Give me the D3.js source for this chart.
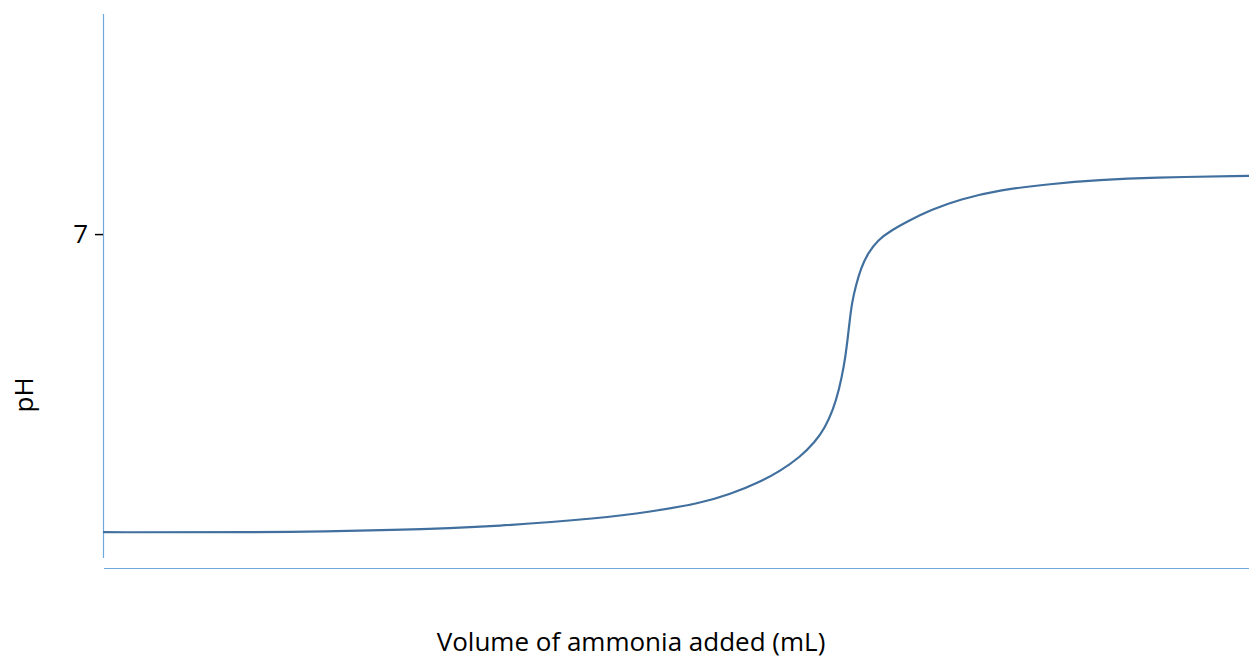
<!DOCTYPE html>
<meta charset="utf-8">
<html>
  <style>
    body, html{ margin: 0; background: #fff;}
    text{ font-family: "Open Sans", sans-serif; fill: #000; }
    .axis-line{ stroke: #6fa8dc; stroke-width: 1.2; }
    .curve{ fill: none; stroke: #41709f; stroke-width: 2.2; }
  </style>
  <body>
    <svg></svg>
    <script src="https://cdn.jsdelivr.net/npm/d3@7"></script>
    <script>
// titration curve
var volume = [0, 6.4, 13, 17.3, 21.7, 23.87, 26.05, 27.36, 28.66, 29.54, 30.41, 31.06, 31.5, 31.85, 32.11, 32.33, 32.46, 32.57, 32.68, 32.85, 33.07, 33.38, 33.81, 34.34, 35.21, 36.08, 37.39, 39.14, 41.32, 43.5, 45.68, 50]
  , ph = [1.0, 0.99, 1.04, 1.12, 1.28, 1.41, 1.58, 1.76, 2.01, 2.23, 2.51, 2.81, 3.1, 3.46, 3.86, 4.34, 4.77, 5.23, 5.63, 5.97, 6.32, 6.62, 6.88, 7.06, 7.28, 7.48, 7.7, 7.89, 8.01, 8.09, 8.14, 8.17]
  , phTicks = [7]

var w = 1249, h = 659
  , svg = d3.select('svg').attr('width', w).attr('height', h)

var x = d3.scaleLinear().domain([0, 50]).range([103, 1249])
  , y = d3.scaleLinear().domain([0.48, 11.43]).range([558, 14])

// axis lines
svg.append('line').attr('class', 'axis-line')
  .attr('x1', 103.5).attr('x2', 103.5).attr('y1', 14).attr('y2', 558)
svg.append('line').attr('class', 'axis-line')
  .attr('x1', 104).attr('x2', 1249).attr('y1', 568.5).attr('y2', 568.5)

// y ticks
var yAxis = svg.append('g').attr('transform', 'translate(103,0)')
  .call(d3.axisLeft(y).tickValues(phTicks).tickSize(8).tickPadding(7))
yAxis.select('.domain').remove()
yAxis.selectAll('.tick line').attr('stroke', '#000').attr('stroke-width', 1.5)
yAxis.selectAll('.tick text').style('font-size', '26px').attr('font-family', null)

// curve
var pts = volume.map(function(v, i){ return [v, ph[i]] })
svg.append('path').attr('class', 'curve')
  .attr('d', d3.line().x(function(d){ return x(d[0]) }).y(function(d){ return y(d[1]) })
    .curve(d3.curveBasis)(pts))

// labels
svg.append('text').attr('x', 631).attr('y', 651).attr('text-anchor', 'middle')
  .style('font-size', '26px').text('Volume of ammonia added (mL)')
svg.append('text').attr('transform', 'translate(33,395) rotate(-90)').attr('text-anchor', 'middle')
  .style('font-size', '26px').text('pH')
    </script>
  </body>
</html>
